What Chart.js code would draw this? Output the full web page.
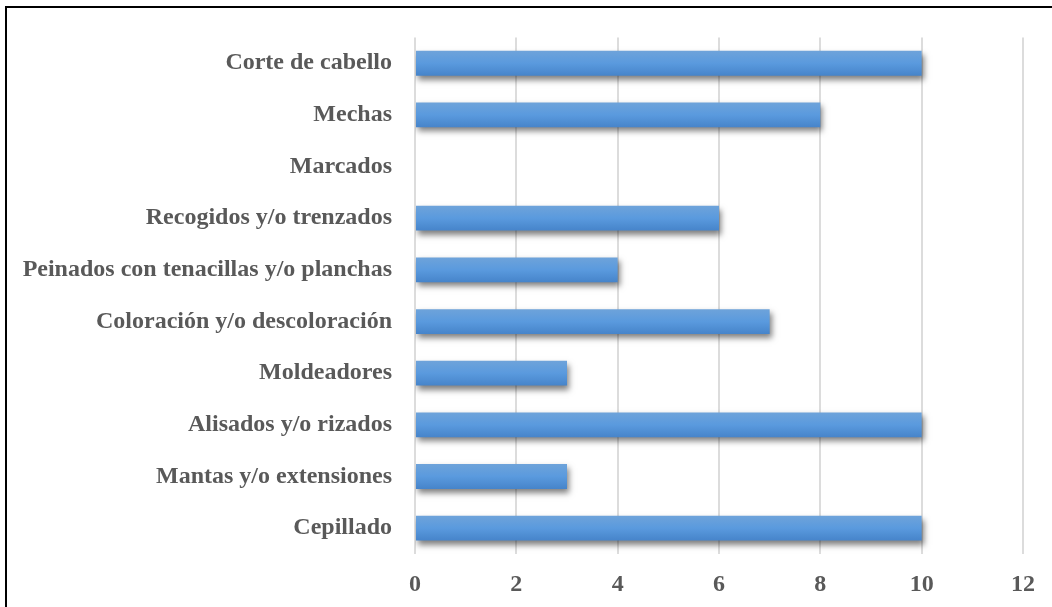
<!DOCTYPE html>
<html>
<head>
<meta charset="utf-8">
<script src="https://cdn.jsdelivr.net/npm/chart.js@4/dist/chart.umd.min.js"></script>
<style>
  html, body { margin: 0; padding: 0; background: #fff; overflow: hidden; }
  #wrap { position: relative; width: 1052px; height: 607px; }
  #frame {
    position: absolute; left: 5px; top: 6px; width: 1100px; height: 700px;
    border-left: 2px solid #000; border-top: 2px solid #000; pointer-events: none;
  }
  canvas { position: absolute; left: 0; top: 0; }
</style>
</head>
<body>
<div id="wrap">
  <canvas id="c" width="1052" height="607"></canvas>
  <div id="frame"></div>
</div>
<script>
// Servicios y número de respuestas
const categories = [
  "Corte de cabello",
  "Mechas",
  "Marcados",
  "Recogidos y/o trenzados",
  "Peinados con tenacillas y/o planchas",
  "Coloración y/o descoloración",
  "Moldeadores",
  "Alisados y/o rizados",
  "Mantas y/o extensiones",
  "Cepillado"
];
const values = [10, 8, 0, 6, 4, 7, 3, 10, 3, 10];
const xTicks = [0, 2, 4, 6, 8, 10, 12];

const BAR_SHARE = 0.48;
const labelFont = { family: "'Liberation Serif', 'Times New Roman', serif", size: 24, weight: "bold" };
const labelColor = "#595959";

// Vertical gradient computed for each bar from its category slot
function barGradient(context) {
  const chart = context.chart;
  const y = chart.scales.y;
  if (!y || y.bottom === undefined) return "#5b9bd5";
  const slot = (y.bottom - y.top) / categories.length;
  const h = slot * BAR_SHARE;
  const c = y.getPixelForValue(context.dataIndex);
  const g = chart.ctx.createLinearGradient(0, c - h / 2, 0, c + h / 2);
  g.addColorStop(0, "#6ea3da");
  g.addColorStop(0.5, "#5a9ade");
  g.addColorStop(1, "#4684ca");
  return g;
}

// Soft drop shadow under the bars
const barShadow = {
  id: "barShadow",
  beforeDatasetsDraw(chart) {
    const ctx = chart.ctx;
    ctx.save();
    ctx.shadowColor = "rgba(0,0,0,0.5)";
    ctx.shadowBlur = 6;
    ctx.shadowOffsetX = 2;
    ctx.shadowOffsetY = 4;
  },
  afterDatasetsDraw(chart) {
    chart.ctx.restore();
  }
};

new Chart(document.getElementById("c"), {
  type: "bar",
  data: {
    labels: categories,
    datasets: [{
      data: values,
      backgroundColor: barGradient,
      borderWidth: 0,
      categoryPercentage: 1,
      barPercentage: BAR_SHARE
    }]
  },
  options: {
    indexAxis: "y",
    responsive: false,
    animation: false,
    layout: { padding: { top: 37, right: 29, left: 0, bottom: 0 } },
    plugins: { legend: { display: false }, tooltip: { enabled: false } },
    scales: {
      x: {
        min: 0, max: 12,
        afterBuildTicks(axis) { axis.ticks = xTicks.map(v => ({ value: v })); },
        afterFit(axis) { axis.height = 53; },
        grid: { color: "#dcdcdc", lineWidth: 2, drawTicks: false },
        border: { display: false },
        ticks: { font: labelFont, color: labelColor, padding: 16 }
      },
      y: {
        afterFit(axis) { axis.width = 415; },
        grid: { display: false, drawTicks: false },
        border: { display: false },
        ticks: { font: labelFont, color: labelColor, padding: 23, autoSkip: false }
      }
    }
  },
  plugins: [barShadow]
});
</script>
</body>
</html>
